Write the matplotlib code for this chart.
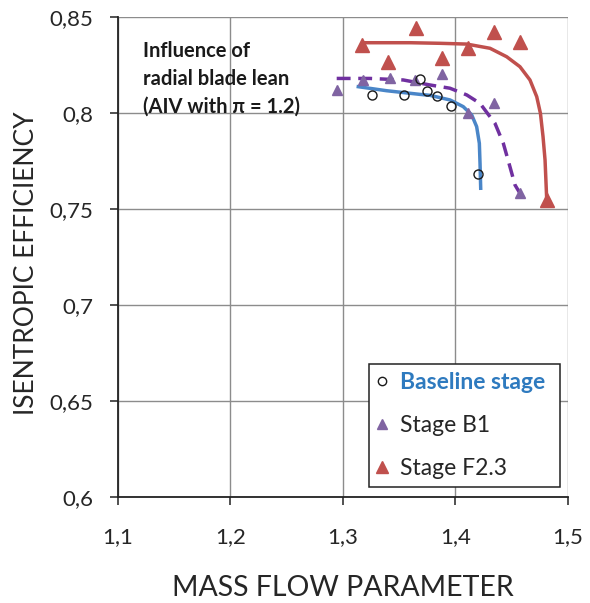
import matplotlib
matplotlib.use("Agg")
import matplotlib.pyplot as plt
from matplotlib.lines import Line2D

# ---- data ----
base_x = [1.3255, 1.3545, 1.3684, 1.3744, 1.3833, 1.3960, 1.4197]
base_y = [0.8094, 0.8094, 0.8175, 0.8116, 0.8090, 0.8038, 0.7682]

b1_x = [1.2944, 1.3180, 1.3418, 1.3640, 1.3877, 1.4114, 1.4345, 1.4573]
b1_y = [0.8120, 0.8172, 0.8180, 0.8172, 0.8203, 0.7998, 0.8050, 0.7582]

f23_x = [1.3166, 1.3397, 1.3646, 1.3877, 1.4108, 1.4345, 1.4573, 1.4810]
f23_y = [0.8354, 0.8267, 0.8441, 0.8285, 0.8340, 0.8420, 0.8371, 0.7547]

# trend curves
base_fit_x = [1.3136, 1.3388, 1.3684, 1.3773, 1.3951, 1.4069, 1.4144, 1.4188, 1.4212, 1.4218, 1.4224]
base_fit_y = [0.8137, 0.8116, 0.8097, 0.8092, 0.8068, 0.8033, 0.7990, 0.7929, 0.7842, 0.7738, 0.7608]

b1_fit_x = [1.2944, 1.3240, 1.3536, 1.3773, 1.3951, 1.4100, 1.4218, 1.4351, 1.4425, 1.4484, 1.4529, 1.4573]
b1_fit_y = [0.8180, 0.8180, 0.8172, 0.8146, 0.8129, 0.8094, 0.8050, 0.7946, 0.7842, 0.7720, 0.7625, 0.7582]

f23_fit_x = [1.3180, 1.3600, 1.3862, 1.4100, 1.4307, 1.4455, 1.4573, 1.4662, 1.4722, 1.4755, 1.4778, 1.4796, 1.4811]
f23_fit_y = [0.8366, 0.8366, 0.8363, 0.8359, 0.8337, 0.8293, 0.8241, 0.8172, 0.8085, 0.7998, 0.7877, 0.7755, 0.7547]

x_ticks = [1.1, 1.2, 1.3, 1.4, 1.5]
y_ticks = [0.6, 0.65, 0.7, 0.75, 0.8, 0.85]
x_ticklabels = ["1,1", "1,2", "1,3", "1,4", "1,5"]
y_ticklabels = ["0,6", "0,65", "0,7", "0,75", "0,8", "0,85"]

labels = ["Baseline stage", "Stage B1", "Stage F2.3"]
note = "Influence of\nradial blade lean\n(AIV with \u03c0 = 1.2)"

# ---- style ----
FONT = "Lato"
c_blue_line = "#4a86c8"
c_blue_text = "#2e7abf"
c_purple_line = "#7030a0"
c_purple_mk = "#8064a2"
c_red = "#c0504d"
c_text = "#262626"

plt.rcParams["font.family"] = [FONT, "DejaVu Sans"]

fig = plt.figure(figsize=(5.9, 6.03), dpi=100)
ax = fig.add_axes([118 / 590, 1 - 497 / 603, 450 / 590, 480 / 603])

ax.set_xlim(1.1, 1.5)
ax.set_ylim(0.6, 0.85)
ax.set_xticks(x_ticks)
ax.set_xticklabels(x_ticklabels)
ax.set_yticks(y_ticks)
ax.set_yticklabels(y_ticklabels)
ax.grid(True, color="#8c8c8c", linewidth=1.0)
ax.set_axisbelow(True)

for side in ("top", "right"):
    ax.spines[side].set_visible(False)
for side in ("left", "bottom"):
    ax.spines[side].set_color("#222222")
    ax.spines[side].set_linewidth(1.3)

ax.tick_params(axis="both", direction="out", length=6, width=1.1,
               color="#222222", labelsize=16, labelcolor=c_text)
ax.tick_params(axis="y", pad=12)
ax.tick_params(axis="x", pad=16)

# trend lines
ax.plot(f23_fit_x, f23_fit_y, color=c_red, lw=2.5, solid_capstyle="butt", zorder=3)
ax.plot(b1_fit_x, b1_fit_y, color=c_purple_line, lw=2.5, dashes=(4, 2.2), zorder=3)
ax.plot(base_fit_x, base_fit_y, color=c_blue_line, lw=2.5, zorder=3)

# measured points
ax.plot(f23_x, f23_y, ls="none", marker="^", ms=10.5, color=c_red, mec=c_red, zorder=4)
ax.plot(b1_x, b1_y, ls="none", marker="^", ms=7.5, color=c_purple_mk, mec=c_purple_mk, zorder=4)
ax.plot(base_x, base_y, ls="none", marker="o", ms=6.5, mfc="none", mec="#1a1a1a", mew=1.0, zorder=5)

ax.text(1.1222, 0.8375, note, fontsize=14.5, fontweight="bold", color="#1a1a1a",
        va="top", ha="left", linespacing=1.5, zorder=6)

ax.set_xlabel("MASS FLOW PARAMETER", fontsize=20.5, color=c_text, va="center")
ax.xaxis.set_label_coords(0.5, -0.19)
ax.set_ylabel("ISENTROPIC EFFICIENCY", fontsize=19, color=c_text, va="center")
ax.yaxis.set_label_coords(-0.204, 0.488)

handles = [
    Line2D([], [], ls="none", marker="o", ms=6, mfc="none", mec="#1a1a1a", mew=1.0),
    Line2D([], [], ls="none", marker="^", ms=7, color=c_purple_mk),
    Line2D([], [], ls="none", marker="^", ms=9, color=c_red),
]
leg = ax.legend(handles, labels, loc="lower left",
                bbox_to_anchor=(0.558, 0.0208, 0.424, 0.2667), mode="expand",
                frameon=True, fancybox=False, edgecolor="#222222", framealpha=1,
                fontsize=16.5, handlelength=0.45, handletextpad=0.55,
                labelspacing=0.95, borderpad=0.35, borderaxespad=0)
leg.get_frame().set_linewidth(1.1)
leg.set_zorder(7)
texts = leg.get_texts()
texts[0].set_color(c_blue_text)
texts[0].set_fontweight("bold")
for t in texts[1:]:
    t.set_color(c_text)

fig.savefig("out.png", dpi=100)
